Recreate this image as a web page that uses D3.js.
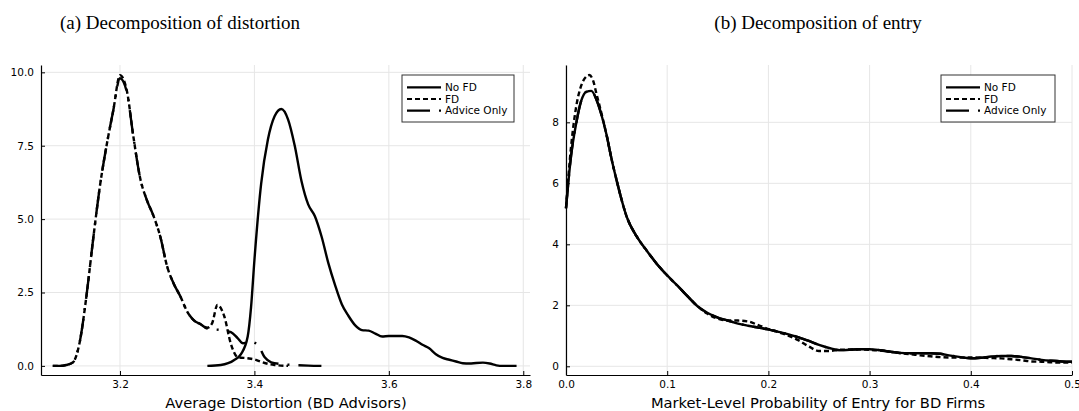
<!DOCTYPE html>
<html>
<head>
<meta charset="utf-8">
<script src="https://cdn.jsdelivr.net/npm/d3@7"></script>
<style>
  body { margin: 0; background: #fff; }
  svg { display: block; }
</style>
</head>
<body>
<div id="chart"></div>
<script>
// ---- data ----
// panel (a): average distortion
var distNoFD = [[3.33,0],[3.35,0.03],[3.37,0.2],[3.38,0.4],[3.39,1.0],[3.395,2.0],[3.40,3.6],[3.41,6.2],[3.42,7.7],[3.43,8.5],
  [3.44,8.75],[3.45,8.4],[3.46,7.5],[3.47,6.3],[3.48,5.5],[3.49,5.1],[3.50,4.4],[3.51,3.5],[3.52,2.75],[3.53,2.1],
  [3.54,1.7],[3.55,1.38],[3.56,1.22],[3.57,1.2],[3.58,1.1],[3.59,1.0],[3.60,1.02],[3.61,1.02],[3.62,1.02],[3.63,0.97],
  [3.64,0.86],[3.65,0.72],[3.66,0.6],[3.67,0.4],[3.68,0.27],[3.69,0.21],[3.70,0.15],[3.71,0.09],[3.72,0.08],[3.73,0.1],
  [3.74,0.11],[3.75,0.08],[3.76,0.02],[3.77,0],[3.79,0]];
var distFD = [[3.10,0],[3.11,0],[3.12,0.03],[3.13,0.12],[3.14,0.8],[3.15,2.36],[3.16,4.3],[3.17,6.1],[3.18,7.5],[3.19,8.7],
  [3.20,9.9],[3.21,9.4],[3.22,7.8],[3.23,6.4],[3.24,5.65],[3.25,5.1],[3.26,4.4],[3.27,3.4],[3.28,2.8],[3.29,2.36],
  [3.30,1.85],[3.31,1.55],[3.32,1.42],[3.33,1.3],[3.337,1.45],[3.345,2.08],[3.355,1.7],[3.365,0.75],[3.375,0.3],[3.39,0.26],
  [3.40,0.22],[3.41,0.14],[3.42,0.07],[3.43,0.03],[3.45,0]];
var distAdvice = [[3.10,0],[3.11,0],[3.12,0.03],[3.13,0.12],[3.14,0.8],[3.15,2.36],[3.16,4.3],[3.17,6.1],[3.18,7.5],[3.19,8.7],
  [3.20,9.8],[3.21,9.35],[3.22,7.8],[3.23,6.4],[3.24,5.65],[3.25,5.1],[3.26,4.4],[3.27,3.4],[3.28,2.8],[3.29,2.36],
  [3.30,1.85],[3.31,1.55],[3.32,1.42],[3.33,1.27],[3.35,1.22],[3.365,1.15],[3.375,0.95],[3.383,0.77],[3.393,0.83],[3.405,0.72],
  [3.415,0.3],[3.425,0.12],[3.44,0.06],[3.46,0.03],[3.48,0.01],[3.50,0]];

// panel (b): entry probability
var entryNoFD = [[0,5.18],[0.005,6.9],[0.01,7.95],[0.015,8.7],[0.02,9.0],[0.025,9.03],[0.03,8.75],[0.035,8.25],[0.04,7.6],
  [0.045,6.8],[0.05,6.1],[0.06,4.9],[0.07,4.25],[0.08,3.78],[0.09,3.35],[0.10,2.98],[0.11,2.65],[0.12,2.3],[0.13,1.97],
  [0.14,1.75],[0.15,1.6],[0.16,1.5],[0.17,1.4],[0.18,1.33],[0.19,1.27],[0.20,1.21],[0.21,1.13],[0.22,1.05],[0.23,0.95],
  [0.24,0.83],[0.25,0.7],[0.26,0.6],[0.27,0.53],[0.28,0.54],[0.29,0.56],[0.30,0.56],[0.31,0.53],[0.32,0.48],[0.33,0.44],
  [0.34,0.43],[0.35,0.43],[0.36,0.43],[0.37,0.41],[0.38,0.35],[0.39,0.3],[0.40,0.26],[0.41,0.28],[0.42,0.32],[0.43,0.34],
  [0.44,0.34],[0.45,0.31],[0.46,0.26],[0.47,0.21],[0.48,0.18],[0.49,0.16],[0.50,0.15]];
var entryFD = [[0,5.2],[0.005,7.2],[0.01,8.5],[0.015,9.2],[0.02,9.5],[0.023,9.55],[0.027,9.35],[0.03,8.95],[0.035,8.3],
  [0.04,7.6],[0.045,6.8],[0.05,6.1],[0.06,4.9],[0.07,4.25],[0.08,3.78],[0.09,3.35],[0.10,2.98],[0.11,2.65],[0.12,2.3],
  [0.13,1.97],[0.14,1.72],[0.15,1.56],[0.16,1.5],[0.17,1.5],[0.18,1.47],[0.19,1.35],[0.20,1.22],[0.21,1.12],[0.22,1.0],
  [0.23,0.85],[0.24,0.65],[0.25,0.5],[0.26,0.5],[0.27,0.54],[0.28,0.55],[0.29,0.55],[0.30,0.54],[0.31,0.52],[0.32,0.48],
  [0.33,0.43],[0.34,0.4],[0.35,0.36],[0.36,0.33],[0.37,0.3],[0.38,0.29],[0.39,0.29],[0.40,0.29],[0.41,0.28],[0.42,0.27],
  [0.43,0.26],[0.44,0.23],[0.45,0.2],[0.46,0.16],[0.47,0.15],[0.48,0.13],[0.49,0.12],[0.50,0.12]];
var entryAdvice = [[0,5.18],[0.005,6.9],[0.01,7.95],[0.015,8.7],[0.02,9.0],[0.025,9.03],[0.03,8.75],[0.035,8.25],[0.04,7.6],
  [0.045,6.8],[0.05,6.1],[0.06,4.9],[0.07,4.25],[0.08,3.78],[0.09,3.35],[0.10,2.98],[0.11,2.65],[0.12,2.3],[0.13,1.97],
  [0.14,1.75],[0.15,1.6],[0.16,1.5],[0.17,1.4],[0.18,1.33],[0.19,1.27],[0.20,1.21],[0.21,1.13],[0.22,1.05],[0.23,0.95],
  [0.24,0.83],[0.25,0.7],[0.26,0.6],[0.27,0.53],[0.28,0.54],[0.29,0.56],[0.30,0.56],[0.31,0.53],[0.32,0.48],[0.33,0.44],
  [0.34,0.43],[0.35,0.43],[0.36,0.43],[0.37,0.41],[0.38,0.35],[0.39,0.3],[0.40,0.26],[0.41,0.28],[0.42,0.32],[0.43,0.34],
  [0.44,0.34],[0.45,0.31],[0.46,0.26],[0.47,0.21],[0.48,0.18],[0.49,0.16],[0.50,0.15]];

var seriesNames = ["No FD", "FD", "Advice Only"];
var distXTicks = [3.2, 3.4, 3.6, 3.8];
var distYTicks = [0, 2.5, 5, 7.5, 10];
var entryXTicks = [0, 0.1, 0.2, 0.3, 0.4, 0.5];
var entryYTicks = [0, 2, 4, 6, 8];

var svgWidth = 1079;
var svgHeight = 411;

var dashes = ["none", "5,3", "23,9,2,9"];

var svg = d3.select("#chart")
  .append("svg")
  .attr("width", svgWidth)
  .attr("height", svgHeight);

function drawPanel(p) {
  var x = d3.scaleLinear().domain(p.xDomain).range([p.left, p.right]);
  var y = d3.scaleLinear().domain(p.yDomain).range([p.bottom, p.top]);
  var g = svg.append("g");

  // grid
  g.selectAll(".vgrid").data(p.xTicks).enter().append("line")
    .attr("x1", d => x(d)).attr("x2", d => x(d))
    .attr("y1", p.top).attr("y2", p.bottom)
    .attr("stroke", "#e6e6e6").attr("stroke-width", 1);
  g.selectAll(".hgrid").data(p.yTicks).enter().append("line")
    .attr("x1", p.left).attr("x2", p.right)
    .attr("y1", d => y(d)).attr("y2", d => y(d))
    .attr("stroke", "#e6e6e6").attr("stroke-width", 1);

  // axes
  var bottomAxis = d3.axisBottom(x).tickValues(p.xTicks).tickFormat(p.xFormat)
    .tickSizeInner(-4).tickSizeOuter(0).tickPadding(6);
  var leftAxis = d3.axisLeft(y).tickValues(p.yTicks).tickFormat(p.yFormat)
    .tickSizeInner(-4).tickSizeOuter(0).tickPadding(7);

  var xa = g.append("g").attr("transform", `translate(0, ${p.bottom})`).call(bottomAxis);
  var ya = g.append("g").attr("transform", `translate(${p.left}, 0)`).call(leftAxis);
  [xa, ya].forEach(function(a) {
    a.select(".domain").attr("stroke", "#000").attr("stroke-width", 1.2);
    a.selectAll(".tick line").attr("stroke", "#000");
    a.selectAll("text").attr("font-family", "DejaVu Sans").attr("font-size", "10.5px").attr("fill", "#000");
  });

  // curves
  var line = d3.line()
    .x(d => x(d[0]))
    .y(d => y(d[1]))
    .curve(d3.curveMonotoneX);

  p.series.forEach(function(s, i) {
    g.append("path")
      .datum(s)
      .attr("d", line)
      .attr("fill", "none")
      .attr("stroke", "#000")
      .attr("stroke-width", 2.4)
      .attr("stroke-dasharray", dashes[i]);
  });

  // x label
  g.append("text")
    .attr("x", p.labelX)
    .attr("y", 408)
    .attr("text-anchor", "middle")
    .attr("font-family", "DejaVu Sans")
    .attr("font-size", "14.7px")
    .text(p.xLabel);

  // title
  svg.append("text")
    .attr("x", p.titleX)
    .attr("y", 29)
    .attr("text-anchor", "middle")
    .attr("font-family", "Liberation Serif")
    .attr("font-size", "19px")
    .text(p.title);

  // legend
  var lg = g.append("g").attr("transform", `translate(${p.legendX}, 75)`);
  lg.append("rect")
    .attr("x", 0).attr("y", 0)
    .attr("width", p.legendW).attr("height", 47)
    .attr("fill", "#fff").attr("stroke", "#333").attr("stroke-width", 1);
  seriesNames.forEach(function(name, i) {
    var yy = 12.3 + i * 11.7;
    lg.append("line")
      .attr("x1", 5).attr("x2", 39)
      .attr("y1", yy).attr("y2", yy)
      .attr("stroke", "#000").attr("stroke-width", 2.2)
      .attr("stroke-dasharray", dashes[i]);
    lg.append("text")
      .attr("x", 43).attr("y", yy)
      .attr("dy", "0.35em")
      .attr("font-family", "DejaVu Sans")
      .attr("font-size", "10.5px")
      .text(name);
  });
}

drawPanel({
  left: 41, right: 530, top: 65, bottom: 375,
  xDomain: [3.0825, 3.81], yDomain: [-0.31, 10.25],
  xTicks: distXTicks, yTicks: distYTicks,
  xFormat: d3.format(".1f"), yFormat: d3.format(".1f"),
  series: [distNoFD, distFD, distAdvice],
  xLabel: "Average Distortion (BD Advisors)", labelX: 286,
  title: "(a) Decomposition of distortion", titleX: 180,
  legendX: 402, legendW: 112
});

drawPanel({
  left: 566, right: 1072, top: 65, bottom: 375,
  xDomain: [0, 0.5], yDomain: [-0.285, 9.88],
  xTicks: entryXTicks, yTicks: entryYTicks,
  xFormat: d3.format(".1f"), yFormat: d3.format("d"),
  series: [entryNoFD, entryFD, entryAdvice],
  xLabel: "Market-Level Probability of Entry for BD Firms", labelX: 818,
  title: "(b) Decomposition of entry", titleX: 818,
  legendX: 941, legendW: 114
});
</script>
</body>
</html>
